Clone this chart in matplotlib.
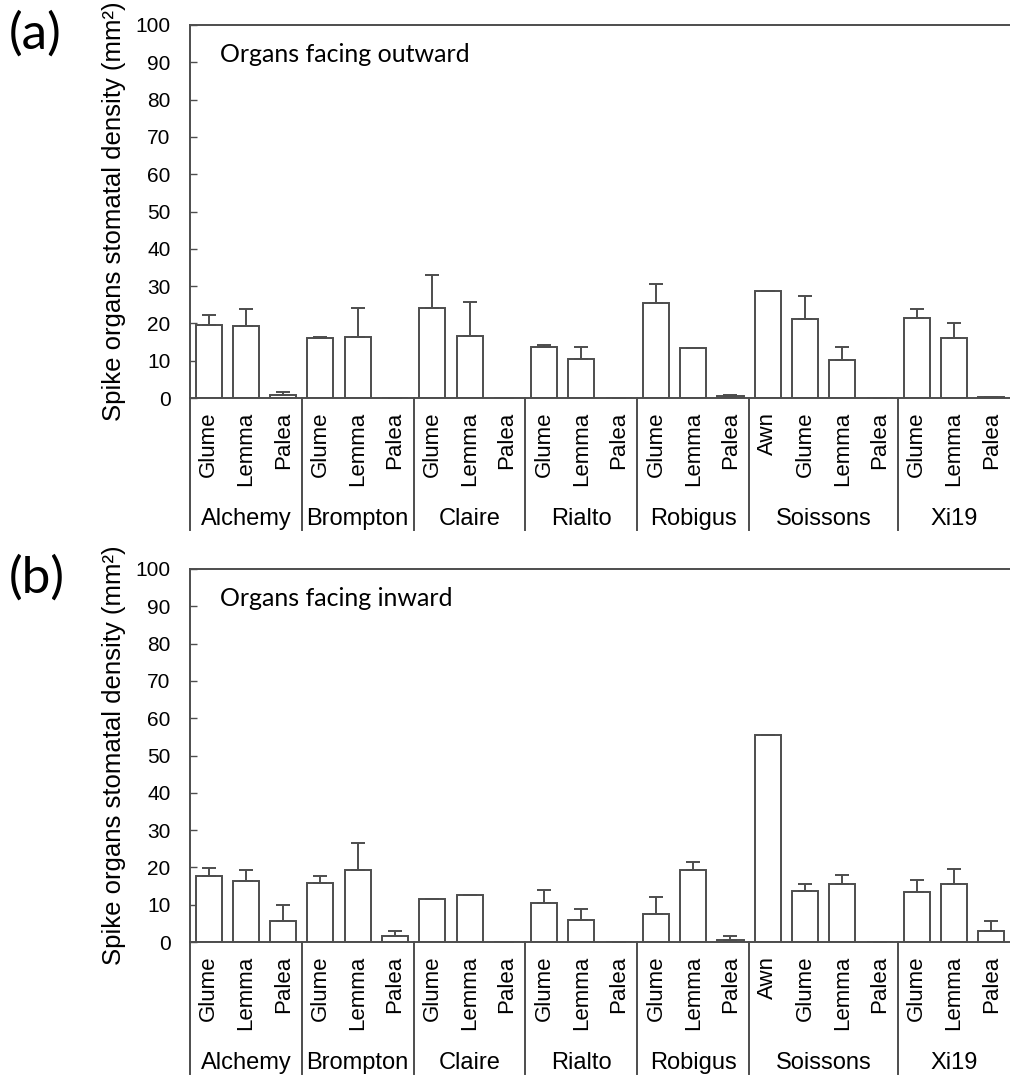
import matplotlib
matplotlib.use("Agg")
import matplotlib.pyplot as plt
import matplotlib.transforms as mtransforms
import numpy as np

# ---- data ----
cultivars = ["Alchemy", "Brompton", "Claire", "Rialto", "Robigus", "Soissons", "Xi19"]
organs = [
    ["Glume", "Lemma", "Palea"],
    ["Glume", "Lemma", "Palea"],
    ["Glume", "Lemma", "Palea"],
    ["Glume", "Lemma", "Palea"],
    ["Glume", "Lemma", "Palea"],
    ["Awn", "Glume", "Lemma", "Palea"],
    ["Glume", "Lemma", "Palea"],
]
outward_mean = [19.7, 19.3, 0.9, 16.1, 16.4, 0.0, 24.1, 16.7, 0.0, 13.8, 10.5, 0.0,
                25.5, 13.4, 0.5, 28.7, 21.2, 10.2, 0.0, 21.5, 16.0, 0.3]
outward_err = [2.5, 4.6, 0.6, 0.3, 7.8, 0.0, 8.8, 9.0, 0.0, 0.3, 3.2, 0.0,
               5.1, 0.0, 0.4, 0.0, 6.2, 3.6, 0.0, 2.3, 4.0, 0.0]
inward_mean = [17.6, 16.3, 5.5, 15.7, 19.2, 1.6, 11.4, 12.6, 0.0, 10.4, 5.8, 0.0,
               7.5, 19.2, 0.6, 55.6, 13.6, 15.6, 0.0, 13.3, 15.6, 3.0]
inward_err = [2.2, 2.9, 4.5, 2.1, 7.4, 1.4, 0.0, 0.0, 0.0, 3.6, 3.0, 0.0,
              4.5, 2.3, 0.9, 0.0, 2.0, 2.3, 0.0, 3.2, 3.9, 2.6]
panel_letters = ["(a)", "(b)"]
panel_titles = ["Organs facing outward", "Organs facing inward"]
ylabel = "Spike organs stomatal density (mm²)"
yticks = list(range(0, 101, 10))

W, H = 1010, 1078
fig = plt.figure(figsize=(W / 100, H / 100), dpi=100)

EDGE = "#4d4d4d"
FONT = "Liberation Sans"
TITLEFONT = "Lato"

labels_flat = [o for grp in organs for o in grp]
x = np.arange(len(labels_flat))
sizes = [len(g) for g in organs]
bounds = np.concatenate([[0], np.cumsum(sizes)]) - 0.5

panels = [
    (outward_mean, outward_err, 25, 398),
    (inward_mean, inward_err, 569, 942),
]

for i, (mean, err, top_px, zero_px) in enumerate(panels):
    left_px, right_px = 190, 1010
    hpx = zero_px - top_px
    ax = fig.add_axes([left_px / W, 1 - zero_px / H, (right_px - left_px) / W, hpx / H])
    ax.bar(x, mean, width=0.7, color="white", edgecolor=EDGE, linewidth=1.4, zorder=2)
    lower = np.zeros(len(err))
    ax.errorbar(x, mean, yerr=[lower, err], fmt="none", ecolor=EDGE, elinewidth=1.4,
                capsize=5, capthick=1.4, zorder=3)
    ax.set_xlim(-0.5, len(x) - 0.5)
    ax.set_ylim(0, 100)
    ax.set_yticks(yticks)
    ax.tick_params(axis="y", direction="in", length=5, width=1, color=EDGE, pad=14,
                   labelsize=15)
    for lab in ax.get_yticklabels():
        lab.set_fontfamily(FONT)
    ax.set_xticks(x)
    ax.set_xticklabels(labels_flat, rotation=90, fontsize=16, fontfamily=FONT)
    ax.tick_params(axis="x", length=0, pad=10)
    for s in ["left", "bottom", "top"]:
        ax.spines[s].set_color(EDGE)
        ax.spines[s].set_linewidth(1.4)
    ax.spines["right"].set_visible(False)

    trans = mtransforms.blended_transform_factory(ax.transData, ax.transAxes)
    depth = 132 / hpx
    for b in bounds[:-1]:
        ax.plot([b, b], [0, -depth], transform=trans, color=EDGE, lw=1.4, clip_on=False)
    for g, name in enumerate(cultivars):
        c = (bounds[g] + bounds[g + 1]) / 2
        ax.text(c, -121 / hpx, name, transform=trans,
                ha="center", va="center", fontsize=17, fontfamily=FONT)

    ax.text(30 / 820, 1 - 30 / hpx, panel_titles[i], transform=ax.transAxes,
            ha="left", va="center", fontsize=18, fontfamily=TITLEFONT)
    fig.text(9 / W, 1 - (top_px + 9) / H, panel_letters[i], ha="left", va="center",
             fontsize=37, fontfamily=TITLEFONT)
    fig.text(114 / W, 1 - ((top_px + zero_px) / 2) / H, ylabel, rotation=90,
             ha="center", va="center", fontsize=18.5, fontfamily=FONT)

fig.savefig("out.png", dpi=100)
